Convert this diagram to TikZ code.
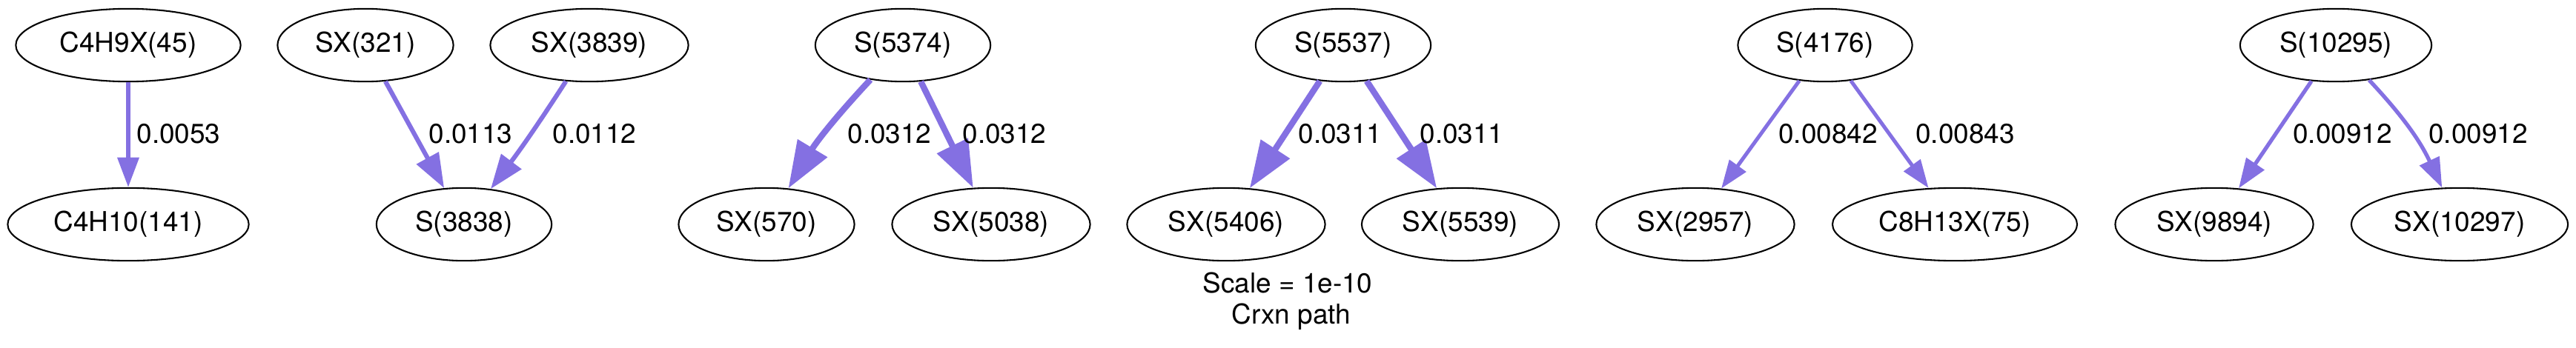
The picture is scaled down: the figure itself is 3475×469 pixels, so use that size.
\documentclass[tikz,border=0pt]{standalone}
\usepackage{fontspec}
\setmainfont{TeX Gyre Heros}
\usetikzlibrary{shapes.geometric,arrows.meta}
\definecolor{fluxcol}{RGB}{132,112,226}
\tikzset{
    species/.style={draw, ellipse, line width=0.75pt, inner sep=0pt,
        minimum height=35.4pt, font=\fontsize{13.3}{16}\selectfont},
    flux/.style={draw=fluxcol, line width=#1,
        -{Triangle[length=0pt 7.6, width=0pt 5.4]}},
    fluxlabel/.style={anchor=base, inner sep=0pt, font=\fontsize{13.3}{16}\selectfont},
}
\newcommand\Flux[6]{%
    \draw[flux=#3] (#1) to[bend left=#4] (#2);
    \node[fluxlabel] (#1-#2) at (#5,193) {#6};
}

\begin{document}
\begin{tikzpicture}[x=0.36pt, y=-0.36pt]
    \useasboundingbox (0,0) rectangle (3475,469);
    % species, top row then bottom row
    \node[species, minimum width=109.2pt] (c4h9x) at (173,61) {C4H9X(45)};
    \node[species, minimum width=117.1pt] (c4h10) at (173,303) {C4H10(141)};
    \node[species, minimum width=85.4pt] (sx321) at (493,61) {SX(321)};
    \node[species, minimum width=96.2pt] (sx3839) at (795,61) {SX(3839)};
    \node[species, minimum width=85.1pt] (s3838) at (626,303) {S(3838)};
    \node[species, minimum width=85.1pt] (s5374) at (1218,61) {S(5374)};
    \node[species, minimum width=85.4pt] (sx570) at (1034,303) {SX(570)};
    \node[species, minimum width=96.2pt] (sx5038) at (1337,303) {SX(5038)};
    \node[species, minimum width=85.1pt] (s5537) at (1812,61) {S(5537)};
    \node[species, minimum width=96.2pt] (sx5406) at (1654,303) {SX(5406)};
    \node[species, minimum width=95.8pt] (sx5539) at (1970,303) {SX(5539)};
    \node[species, minimum width=84.7pt] (s4176) at (2462,61) {S(4176)};
    \node[species, minimum width=96.2pt] (sx2957) at (2287,303) {SX(2957)};
    \node[species, minimum width=118.8pt] (c8h13x) at (2637,303) {C8H13X(75)};
    \node[species, minimum width=93pt] (s10295) at (3151,61) {S(10295)};
    \node[species, minimum width=96.2pt] (sx9894) at (2987,303) {SX(9894)};
    \node[species, minimum width=105.2pt] (sx10297) at (3318,303) {SX(10297)};
    % fluxes
    \Flux{c4h9x}{c4h10}{1.9pt}{0}{241}{0.0053}
    \Flux{sx321}{s3838}{2.2pt}{0}{635}{0.0113}
    \Flux{sx3839}{s3838}{2.2pt}{2}{802}{0.0112}
    \Flux{s5374}{sx570}{3pt}{-6}{1200}{0.0312}
    \Flux{s5374}{sx5038}{3pt}{0}{1355}{0.0312}
    \Flux{s5537}{sx5406}{3pt}{0}{1808}{0.0311}
    \Flux{s5537}{sx5539}{3pt}{0}{1972}{0.0311}
    \Flux{s4176}{sx2957}{1.8pt}{0}{2466}{0.00842}
    \Flux{s4176}{c8h13x}{1.8pt}{0}{2651}{0.00843}
    \Flux{s10295}{sx9894}{1.9pt}{0}{3160}{0.00912}
    \Flux{s10295}{sx10297}{1.9pt}{9}{3343}{0.00912}
    \node[fluxlabel] (scale) at (1737,395) {Scale = 1e-10};
    \node[fluxlabel] (crxn) at (1742,437) {Crxn path};
\end{tikzpicture}
\end{document}
